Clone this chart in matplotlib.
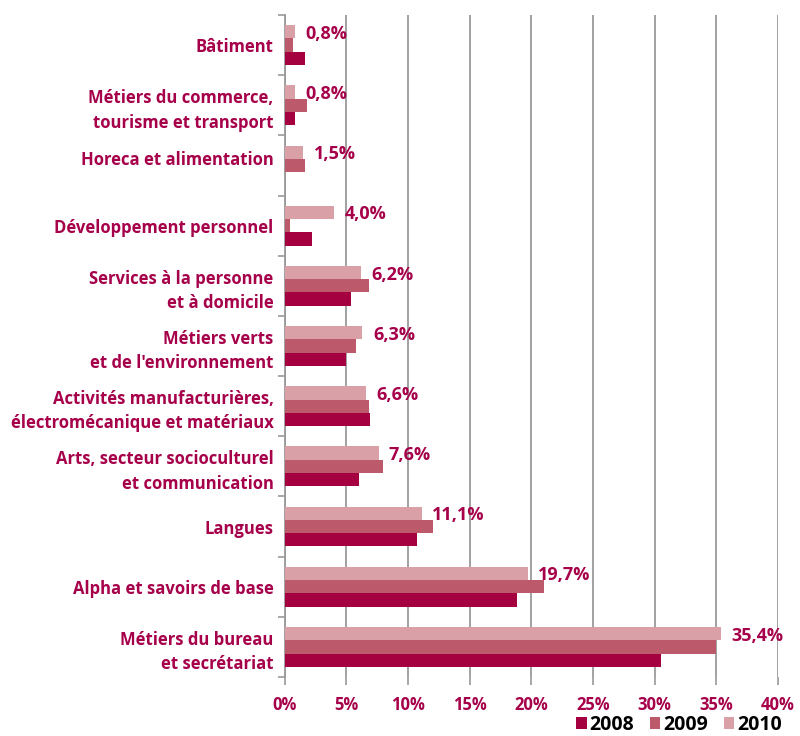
import matplotlib
matplotlib.use("Agg")
import matplotlib.pyplot as plt
from matplotlib.patches import Patch
from matplotlib.transforms import ScaledTranslation
import numpy as np

plt.rcParams['font.family'] = ['Open Sans', 'DejaVu Sans']

categories = [
    "Bâtiment",
    "Métiers du commerce,\ntourisme et transport",
    "Horeca et alimentation",
    "Développement personnel",
    "Services à la personne\net à domicile",
    "Métiers verts\net de l'environnement",
    "Activités manufacturières,\nélectromécanique et matériaux",
    "Arts, secteur socioculturel\net communication",
    "Langues",
    "Alpha et savoirs de base",
    "Métiers du bureau\net secrétariat",
]
values_2008 = [1.6, 0.8, 0.0, 2.2, 5.4, 5.0, 6.9, 6.0, 10.7, 18.8, 30.5]
values_2009 = [0.7, 1.8, 1.6, 0.4, 6.8, 5.8, 6.8, 8.0, 12.0, 21.0, 35.0]
values_2010 = [0.8, 0.8, 1.5, 4.0, 6.2, 6.3, 6.6, 7.6, 11.1, 19.7, 35.4]
labels_2010 = ["0,8%", "0,8%", "1,5%", "4,0%", "6,2%", "6,3%", "6,6%", "7,6%",
               "11,1%", "19,7%", "35,4%"]
series_names = ["2008", "2009", "2010"]
xticks = [0, 5, 10, 15, 20, 25, 30, 35, 40]
xtick_labels = ["0%", "5%", "10%", "15%", "20%", "25%", "30%", "35%", "40%"]

c2008 = "#A5003F"
c2009 = "#BC5A6C"
c2010 = "#D9A0A8"
crimson = "#A6004A"
grid_gray = "#9A9A9A"

fig = plt.figure(figsize=(8.0, 7.36), dpi=100)
ax = fig.add_axes([0.356, 0.0802, 0.9725 - 0.356, 0.9796 - 0.0802])

y = np.arange(len(categories))
h = 0.221
ax.barh(y - h, values_2010, height=h, color=c2010, zorder=3)
ax.barh(y, values_2009, height=h, color=c2009, zorder=3)
ax.barh(y + h, values_2008, height=h, color=c2008, zorder=3)

for yi, v, lab in zip(y, values_2010, labels_2010):
    ax.annotate(lab, xy=(v, yi - h), xytext=(7.5, -1.5), textcoords="offset points",
                ha="left", va="center", fontsize=13, fontweight="bold",
                color=crimson)

ax.set_xlim(0, 40)
ax.set_ylim(len(categories) - 0.5, -0.5)
ax.set_xticks(xticks)
ax.set_xticklabels(xtick_labels, fontsize=12, fontweight="bold", color=crimson)
ax.xaxis.grid(True, color=grid_gray, linewidth=1.3, zorder=0)
ax.set_axisbelow(True)

# category labels sit between minor ticks on the left spine
ax.set_yticks(y)
ax.set_yticklabels(categories, fontsize=12, fontweight="bold", color=crimson,
                   linespacing=1.45)
ax.tick_params(axis="y", length=0, pad=8)
ax.set_yticks(np.arange(-0.5, len(categories), 1.0), minor=True)
ax.tick_params(axis="y", which="minor", length=5, width=1.2, color=grid_gray)
ax.tick_params(axis="x", length=6, width=1.2, color=grid_gray, pad=8)

# the Horeca label sits a little above its group
horeca = ax.get_yticklabels()[2]
horeca.set_transform(horeca.get_transform() +
                     ScaledTranslation(0, 7 / 100, fig.dpi_scale_trans))

for side in ["top", "right", "bottom"]:
    ax.spines[side].set_visible(False)
ax.spines["left"].set_color(grid_gray)
ax.spines["left"].set_linewidth(1.3)

handles = [Patch(facecolor=c, edgecolor="none") for c in (c2008, c2009, c2010)]
leg = fig.legend(handles, series_names, loc="lower right",
                 bbox_to_anchor=(782 / 800, 0.002), ncol=3, frameon=False,
                 borderpad=0, borderaxespad=0,
                 handlelength=0.55, handleheight=0.55, handletextpad=0.15,
                 columnspacing=0.8, prop={"size": 14, "weight": "bold"})

fig.savefig("out.png", dpi=100)
